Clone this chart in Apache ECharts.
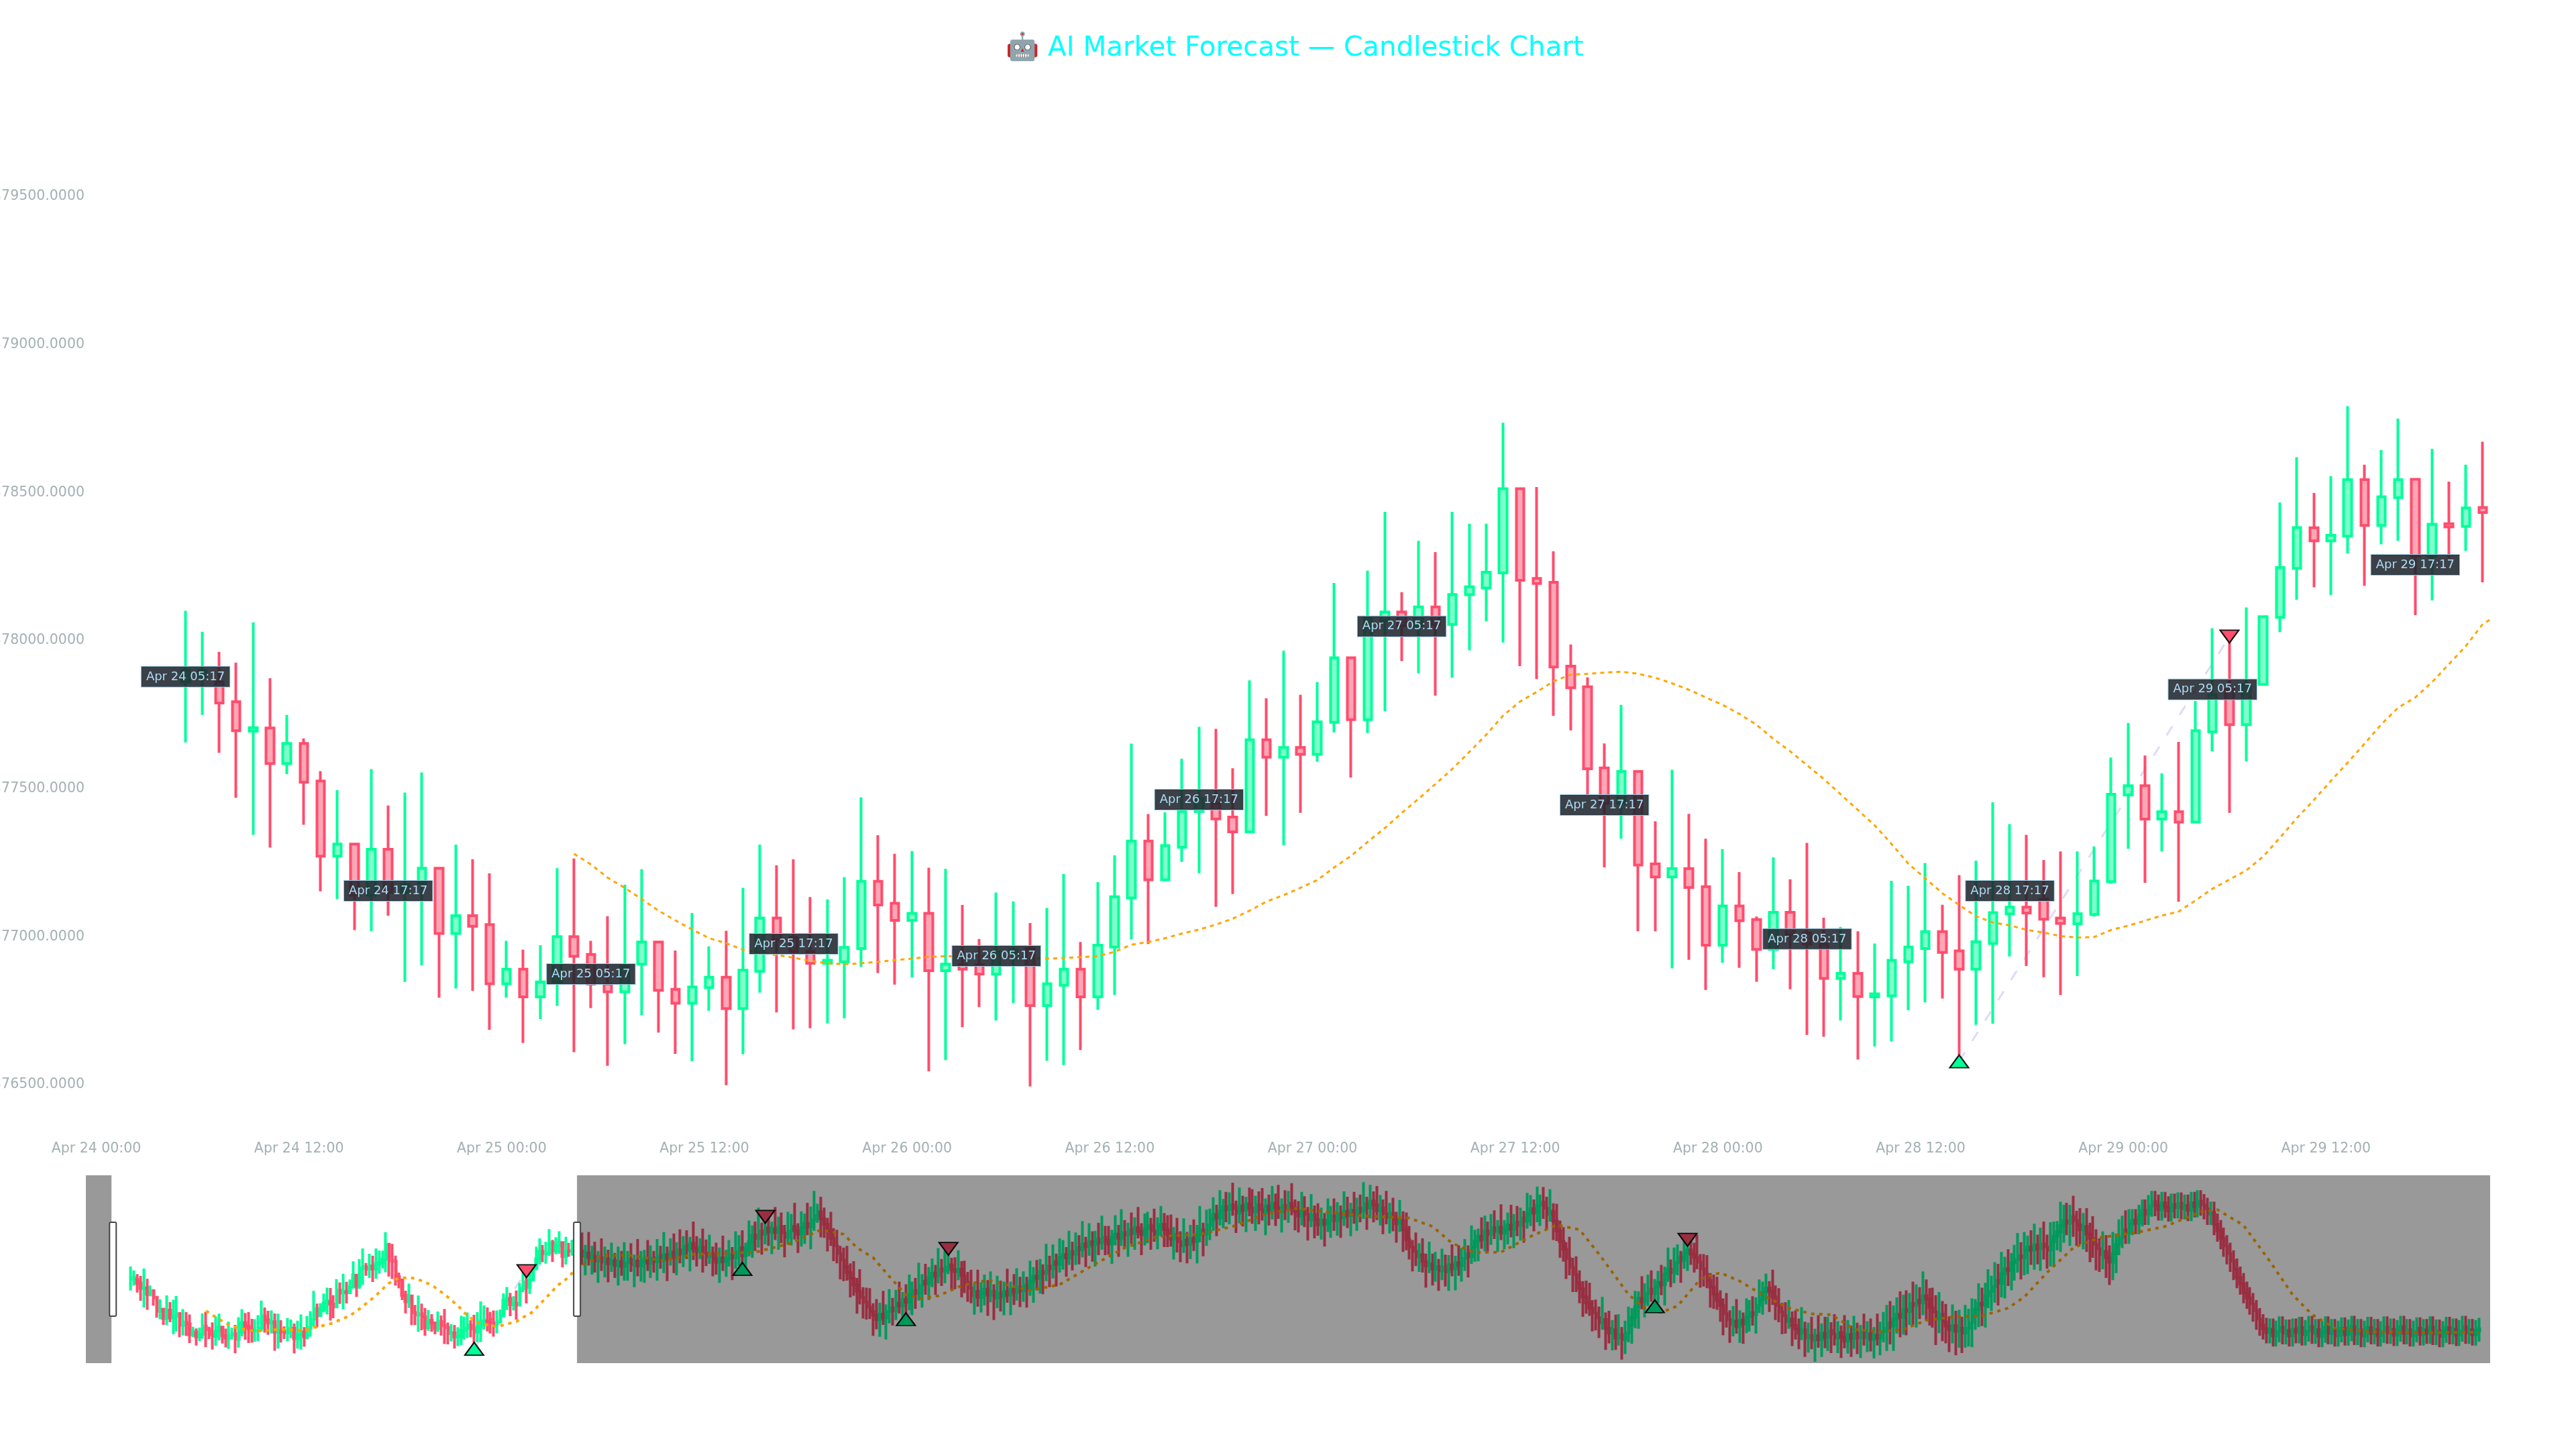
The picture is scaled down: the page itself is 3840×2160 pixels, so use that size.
<!DOCTYPE html>
<html><head><meta charset="utf-8">
<script src="https://cdn.jsdelivr.net/npm/echarts@6/dist/echarts.min.js"></script>
<style>html,body{margin:0;padding:0;background:#fff}#c{width:3840px;height:2160px}</style></head>
<body><div id="c"></div>
<script>
const firstCandle = Date.UTC(2025,3,24,5,17);
const mainMin = Date.UTC(2025,3,23,23,23);
const mainMax = Date.UTC(2025,3,29,21,43);
const sliderMin = Date.UTC(2025,3,23,15,33);
const sliderMax = Date.UTC(2025,4,24,6,41);
const titleText = '🤖 AI Market Forecast — Candlestick Chart';
const xTickHours = 12;
const yTickValues = [76500,77000,77500,78000,78500,79000,79500];
const opens = [77860,77880,77860,77794,77694,77705,77585,77653,77526,77272,77313,77140,77295,77150,77180,77231,77011,77071,77041,76841,76890,76797,76847,77000,76940,76840,76814,76907,76982,76822,76775,76828,76863,76757,76883,77063,76997,76950,76910,76915,76960,77187,77113,77055,77079,76885,76905,76905,76874,76945,76960,76767,76836,76890,76797,76965,77131,77323,77192,77302,77423,77450,77404,77354,77665,77606,77639,77616,77724,77942,77733,78067,78097,78050,78114,78055,78155,78178,78229,78513,78210,78197,77914,77844,77570,77450,77558,77246,77202,77230,77169,76971,77104,77058,76957,77082,77012,76975,76859,76876,76797,76800,76915,76960,77017,76952,76890,76977,77077,77100,77127,77063,77044,77075,77186,77479,77510,77397,77422,77387,77692,77835,77716,77852,78079,78244,78381,78337,78353,78544,78389,78483,78545,78285,78395,78386,78450];
const closes = [77900,77900,77789,77696,77706,77585,77653,77522,77272,77313,77140,77295,77150,77175,77231,77011,77071,77035,76841,76890,76797,76847,77000,76934,76840,76814,76900,76982,76819,76775,76830,76863,76757,76887,77063,76990,76950,76910,76920,76964,77187,77107,77055,77079,76885,76907,76890,76874,76950,76955,76767,76841,76890,76797,76971,77135,77323,77192,77308,77423,77467,77398,77354,77665,77606,77639,77616,77726,77942,77733,78077,78097,78050,78114,78054,78156,78182,78231,78513,78204,78193,77911,77841,77567,77450,77558,77242,77202,77230,77166,76971,77104,77054,76957,77082,77007,76975,76859,76876,76798,76807,76920,76965,77017,76947,76890,76983,77081,77100,77080,77059,77045,77078,77188,77481,77510,77397,77422,77387,77696,77817,77716,77852,78081,78247,78382,78337,78356,78544,78389,78486,78544,78285,78393,78384,78448,78433];
const lows = [77656,77749,77621,77469,77344,77301,77549,77378,77153,77127,77022,77019,77071,76847,76903,76794,76825,76817,76685,76794,76641,76722,76766,76610,76759,76564,76637,76735,76676,76604,76579,76750,76498,76603,76811,76744,76687,76691,76707,76724,76898,76877,76838,76862,76545,76583,76694,76762,76717,76776,76494,76581,76566,76617,76753,76803,76991,76975,77187,77253,77214,77101,77144,77354,77408,77309,77418,77591,77690,77538,77688,77762,77931,77890,77814,77875,77967,78065,77994,77914,77870,77746,77697,77480,77234,77331,77018,77018,76893,76922,76820,76912,76895,76848,76890,76822,76668,76662,76717,76585,76629,76646,76752,76778,76791,76601,76702,76706,76933,76901,76863,76803,76867,77068,77179,77297,77182,77288,77118,77387,77626,77418,77592,77852,78029,78138,78180,78154,78294,78185,78325,78337,78086,78136,78280,78303,78197];
const highs = [78101,78030,77962,77926,78062,77873,77749,77670,77559,77495,77313,77566,77443,77487,77555,77231,77311,77261,77214,76986,76956,76971,77231,77264,76986,77069,77176,77228,76982,76953,77080,76967,77020,77165,77311,77241,77261,77134,77126,77201,77471,77343,77280,77289,77233,77229,77107,76992,77149,77119,77046,77097,77212,76982,77184,77275,77652,77414,77420,77601,77709,77702,77569,77866,77805,77966,77817,77860,78195,77942,78236,78435,78164,78337,78299,78435,78395,78395,78736,78513,78519,78302,77987,77876,77653,77783,77558,77390,77564,77415,77331,77296,77218,77068,77268,77194,77317,77064,77033,77018,76977,77189,77172,77249,77108,77208,77257,77454,77380,77344,77259,77288,77288,77305,77605,77722,77612,77552,77658,77796,78042,78033,78112,78081,78467,78620,78499,78556,78792,78594,78644,78750,78545,78648,78537,78594,78672];
// hours after the window: close, wick above the body, wick below the body
const restClose = [
78390,78300,78350,78260,78290,78200,78260,78180,78240,78150,
78210,78120,78190,78100,78170,78230,78130,78200,78110,78180,
78240,78160,78260,78190,78290,78210,78320,78250,78370,78280,
78410,78340,78480,78400,78530,78440,78380,78460,78350,78280,
78340,78240,78180,78260,78190,78240,78320,78260,78380,78450,
78300,78420,78560,78680,78620,78760,78700,78820,78740,78800,
78730,78830,78720,78640,78760,78840,78770,78700,78820,78900,
78830,78960,79040,79110,78980,78880,78760,78620,78480,78340,
78220,78100,77990,77880,77760,77640,77530,77440,77350,77270,
77200,77120,77220,77150,77270,77340,77280,77420,77370,77490,
77440,77580,77660,77600,77750,77830,77780,77900,77980,77930,
78060,78010,78090,78130,78040,78000,78050,77930,77810,77700,
77560,77640,77530,77600,77680,77570,77640,77520,77610,77540,
77640,77570,77680,77620,77720,77650,77760,77690,77830,77920,
77880,78010,77970,78110,78060,78190,78140,78270,78320,78260,
78380,78330,78450,78410,78520,78470,78560,78510,78610,78540,
78640,78580,78520,78640,78700,78620,78730,78680,78780,78710,
78820,78750,78690,78800,78860,78760,78700,78830,78880,78780,
78690,78610,78700,78560,78480,78590,78510,78620,78560,78700,
78780,78700,78870,78960,79060,79000,79130,79210,79150,79240,
79170,79090,79220,79140,79260,79180,79110,79240,79150,79090,
79220,79140,79270,79190,79110,79230,79160,79270,79190,79120,
79030,79130,79060,78960,79060,78970,78870,78960,78880,78950,
79040,78950,79080,79000,79120,79040,79140,79060,79180,79120,
79260,79180,79310,79240,79130,79190,79080,79010,79090,78970,
78890,78950,78780,78600,78460,78380,78280,78320,78190,78110,
78150,78050,78100,78020,78090,78000,78130,78060,78170,78120,
78250,78340,78280,78460,78570,78660,78600,78760,78700,78820,
78750,78830,78720,78780,78870,78790,78920,78860,79000,78940,
79080,79170,79090,79230,79290,79180,79060,79120,78940,78760,
78560,78420,78250,78080,77950,77800,77690,77540,77430,77330,
77240,77150,77060,77120,76960,76870,76930,76780,76840,76750,
76870,77020,77160,77350,77510,77440,77600,77680,77600,77720,
77810,77760,77960,78050,77990,78170,78260,78210,78340,78410,
78330,78270,78180,78060,77960,77840,77720,77590,77470,77380,
77230,77120,77030,77090,76990,77110,77040,77170,77250,77210,
77380,77490,77630,77700,77640,77540,77380,77260,77190,77090,
77130,77010,76950,76870,76930,76780,76830,76740,76820,76750,
76870,76790,76920,76850,76780,76880,76790,76720,76840,76770,
76870,76780,76880,76790,76860,76750,76830,76780,76900,76960,
77060,77000,77130,77220,77160,77310,77270,77420,77380,77480,
77430,77560,77500,77340,77260,77130,77220,77080,77000,76930,
77010,76900,76960,76870,76960,77060,77190,77310,77420,77390,
77560,77640,77730,77850,77790,77970,78060,78030,78170,78230,
78300,78260,78400,78460,78400,78500,78430,78520,78460,78400,
78560,78660,78740,78860,78950,78900,79020,78950,78870,78780,
78840,78700,78620,78510,78430,78320,78380,78260,78180,78340,
78510,78640,78780,78720,78880,78960,78900,79040,79140,79070,
79220,79300,79230,79150,79280,79200,79130,79250,79190,79270,
79170,79230,79140,79280,79210,79310,79240,79170,79070,79100,
78880,78760,78620,78480,78340,78200,78050,77900,77780,77620,
77520,77410,77280,77130,77020,76950,76880,76940,76820,76900,
76980,76860,76920,76820,76940,76880,76970,76840,76910,76990,
76870,76930,76810,76890,76980,76860,76930,76820,76900,76960,
76840,76920,76990,76850,76930,76810,76900,76970,76860,76930,
76820,76890,76980,76870,76940,76830,76910,76990,76860,76930,
76820,76900,76960,76840,76930,76870,76980,76850,76920,76810,
76890,76970,76860,76940,76830,76910,76990,76870,76930,76840,
76910,76950];
const restUp = [
220,340,150,390,190,270,130,360,230,170,330,140,280,200,380,160,300,120,410,210,
170,350,230,130,320,190,420,150,250,340,140,380,180,290,120,400,220,160,340,250,
350,130,300,190,410,170,270,140,370,230,320,120,390,180,250,430,150,300,210,130,
400,190,270,150,350,230,440,130,300,180,380,250,460,150,280,210,120,350,190,300,
140,230,380,170,320,130,410,190,270,350,150,300,210,430,130,340,180,250,400,140,
280,370,160,230,420,130,320,190,270,150,380,180,300,410,130,230,350,150,280,190,
340,140,400,210,270,170,370,130,320,230,180,420,140,280,350,190,250,150,380,170,
300,230,130,410,190,320,150,350,270,140,380,180,280,230,420,130,340,190,150,300,
400,210,270,140,350,170,430,230,130,320,190,380,150,280,250,140,410,180,340,210,
270,370,130,300,190,400,150,250,350,170,440,130,280,210,320,180,380,140,270,230,
410,150,340,190,130,300,350,170,250,400,140,210,320,180,420,130,280,230,370,150,
190,350,270,140,380,170,300,230,130,410,180,320,210,150,370,270,140,340,190,250,
400,130,300,180,350,230,150,420,190,280,140,380,170,320,250,130,350,210,300,150,
410,190,270,140,340,230,180,380,130,320,190,270,150,400,210,140,350,280,170,250,
320,130,420,180,230,370,150,300,190,130,380,250,170,350,140,280,210,410,150,320,
190,270,130,400,180,340,230,140,300,370,150,250,210,420,130,320,180,280,380,140,
230,340,170,300,130,410,190,270,350,150,210,320,140,400,180,280,250,130,370,170,
300,210,420,150,270,350,140,230,320,190,130,380,170,280,410,180,140,340,230,300,
150,370,190,270,130,400,210,320,170,250,350,140,280,190,420,150,230,340,130,380,
180,300,250,150,370,210,130,410,270,170,320,190,140,350,230,280,150,400,180,300,
330,400,250,310,420,270,350,190,400,290,240,450,300,200,370,310,410,240,330,180,
390,270,340,210,430,260,320,190,370,290,240,410,200,330,300,400,220,360,180,270,
420,250,340,210,310,390,190,300,410,230,360,270,200,440,290,330,220,390,180,310,
250,340,210,410,280,190,370,300,230,400,200,330,260,
360,280];
const restDown = [
250,170,360,140,310,210,400,160,280,340,150,230,370,170,260,330,130,410,190,290,
380,140,270,200,350,150,230,420,130,300,340,180,250,160,390,220,280,140,360,170,
130,320,230,380,170,280,140,410,200,270,150,350,130,300,230,170,380,190,260,410,
140,320,190,370,130,270,170,350,230,300,150,410,200,130,340,250,380,140,280,180,
360,270,150,350,200,410,130,300,230,140,380,180,320,130,400,220,270,170,140,350,
230,150,380,280,130,410,200,300,180,350,140,270,220,130,370,320,150,400,200,250,
140,350,170,280,220,380,130,410,190,270,340,140,370,230,150,300,200,350,130,400,
220,280,380,140,340,180,410,150,230,350,130,300,200,270,140,380,170,320,410,230,
130,270,200,370,150,340,140,230,400,190,300,130,380,200,270,350,140,280,170,320,
230,140,380,200,300,130,350,270,170,400,150,410,220,280,200,340,140,320,230,270,
130,370,190,300,400,150,220,350,270,140,410,280,170,340,130,380,200,250,140,350,
300,170,230,380,130,350,200,270,410,140,320,190,280,370,150,230,380,170,300,200,
140,400,190,320,170,270,380,130,300,220,350,150,410,200,230,370,170,280,200,400,
130,300,230,370,170,270,350,140,400,190,300,230,380,130,270,370,170,220,320,200,
140,380,130,300,270,150,350,200,280,400,140,230,340,170,380,200,280,130,350,190,
300,230,380,140,320,170,270,370,200,140,340,230,280,130,400,190,320,220,140,370,
270,170,350,200,400,130,280,230,150,340,300,190,380,140,270,200,230,410,150,320,
200,280,130,350,230,140,380,270,170,300,400,150,340,220,130,300,370,170,270,200,
350,140,280,230,380,150,270,190,340,230,140,380,200,300,130,350,270,170,400,150,
320,200,250,350,140,280,380,130,230,340,190,300,370,150,270,220,350,140,320,200,
420,340,460,270,370,320,440,250,360,410,300,230,400,330,290,480,260,360,320,410,
250,440,300,370,270,340,450,260,330,390,420,230,360,300,410,260,460,290,370,330,
240,400,320,440,270,360,290,410,230,340,300,460,260,370,320,220,420,300,390,270,
360,330,440,250,400,320,270,370,420,
330,360];
const maMain = [77280,77244,77199,77165,77127,77088,77055,77024,76995,76978,76956,76945,76938,76929,76918,76910,76907,76910,76915,76921,76926,76932,76934,76934,76934,76934,76931,76927,76926,76928,76931,76934,76949,76973,76982,76995,77011,77024,77041,77061,77088,77119,77140,77165,77191,77234,77273,77321,77367,77418,77466,77516,77567,77624,77682,77747,77794,77827,77863,77885,77888,77892,77895,77888,77875,77856,77834,77808,77783,77752,77716,77668,77626,77579,77532,77480,77428,77376,77313,77246,77197,77147,77107,77069,77048,77038,77023,77014,77002,76997,76999,77023,77037,77054,77071,77085,77123,77162,77193,77224,77271,77335,77401,77462,77526,77588,77652,77718,77774,77808,77860,77921,77982,78056];
const maMainStart = 23;
const restMaHour = [139,144,153,163,172,181,191,202,211,218,222,227,232,237,242,247,254,262,269,275,284,294,304,314,327,337,347,356,366,377,391,398,404,411,419,428,436,443,449,458,463,468,473,480,486,492,500,507,514,520,527,535,542,549,557,566,574,579,586,594,602,614,622,633,638,646,654,661,667,674,684,703,718];
const restMaValue = [78160,78304,78304,78209,78325,78346,78366,78532,78780,78697,78449,78263,77911,77580,77506,77560,77746,77849,77746,77655,77767,78118,78449,78656,78697,78842,79069,79173,79111,79036,78995,78842,78532,78358,78366,78656,78871,78780,78325,77580,77332,77250,77374,77870,77986,77829,77539,77332,77225,77208,76939,76898,76939,77105,77167,77188,77332,77539,77994,78449,78635,78739,78842,79111,79152,78863,78201,77580,77208,76960,76898,76877,76886];
const labelHour = [0,12,24,36,48,60,72,84,96,108,120,132];
const labelPrice = [77878,77155,76874,76976,76935,77463,78048,77445,76992,77155,77835,78256];
const upHour = [105,187,237,466];
const upPrice = [76579,78056,77126,77365];
const downHour = [121,194,250,476];
const downPrice = [78014,79020,78428,78594];

const green='#00ff99', red='#ff4d6d', HOUR=3600000;
const t = h => firstCandle + h*HOUR;
const MONTHS=['Jan','Feb','Mar','Apr','May','Jun','Jul','Aug','Sep','Oct','Nov','Dec'];
const p2 = n => String(n).padStart(2,'0');
const fmt = v => { const d=new Date(v); return MONTHS[d.getUTCMonth()]+' '+p2(d.getUTCDate())+' '+p2(d.getUTCHours())+':'+p2(d.getUTCMinutes()); };

const candles = opens.map((o,i)=>[t(i),o,closes[i],lows[i],highs[i]]);
let prev = closes[closes.length-1];
restClose.forEach((c,k)=>{
  const o=prev, up=restUp[k]||200, dn=restDown[k]||200;
  candles.push([t(opens.length+k),o,c,Math.min(o,c)-dn,Math.max(o,c)+up]);
  prev=c;
});
const maData = maMain.map((v,i)=>[t(maMainStart+i),v]).concat(restMaHour.map((h,i)=>[t(h),restMaValue[i]]));
const pairData = [];
upHour.forEach((h,i)=>{ pairData.push([t(h),upPrice[i]],[t(downHour[i]),downPrice[i]],[t(downHour[i]),'-']); });
const upData = upHour.map((h,i)=>[t(h),upPrice[i]]);
const downData = downHour.map((h,i)=>[t(h),downPrice[i]]);
const labelData = labelHour.map((h,i)=>[t(h),labelPrice[i]]);

const candleStyle = {color:'rgba(0,255,153,0.5)',color0:'rgba(255,77,109,0.5)',borderColor:green,borderColor0:red,borderWidth:4,borderColorDoji:green};
const markerBase = {type:'scatter',symbolSize:[28,19],silent:true,z:6};
function marks(x,y){
  return [
    {type:'line',name:'pair',xAxisIndex:x,yAxisIndex:y,data:pairData,showSymbol:false,symbol:'none',silent:true,z:1,connectNulls:false,lineStyle:{color:'#e0daf8',width:3,type:[16,20]}},
    Object.assign({},markerBase,{name:'up',xAxisIndex:x,yAxisIndex:y,data:upData,symbol:'triangle',itemStyle:{color:green,opacity:1,borderColor:'#111',borderWidth:2}}),
    Object.assign({},markerBase,{name:'down',xAxisIndex:x,yAxisIndex:y,data:downData,symbol:'triangle',symbolRotate:180,itemStyle:{color:red,opacity:1,borderColor:'#111',borderWidth:2}})
  ];
}
const axisFont = {color:'#a3b1b2',fontSize:20.5,fontFamily:'DejaVu Sans'};
const option = {
  animation:false,useUTC:true,backgroundColor:'#fff',
  title:{text:titleText,left:1925,textAlign:'center',top:48,textStyle:{color:'#00ffff',fontSize:40.4,fontWeight:'normal',fontFamily:'DejaVu Sans'}},
  grid:[{left:128,top:128,width:3584,height:1560,outerBoundsMode:'none'},{left:128,top:1752,width:3584,height:280,outerBoundsMode:'none'}],
  xAxis:[
    {type:'time',gridIndex:0,minInterval:xTickHours*HOUR,maxInterval:xTickHours*HOUR,axisLine:{show:false},axisTick:{show:false},splitLine:{show:false},
     axisLabel:Object.assign({},axisFont,{margin:14,showMinLabel:false,showMaxLabel:false,hideOverlap:false,formatter:v=>(v%(xTickHours*HOUR)===0?fmt(v):'')})},
    {type:'time',gridIndex:1,min:sliderMin,max:sliderMax,show:false,splitLine:{show:false}}
  ],
  yAxis:[
    {type:'value',gridIndex:0,min:76339,max:79874,axisLine:{show:false},axisTick:{show:false},splitLine:{show:false},
     axisLabel:Object.assign({},axisFont,{margin:2,padding:[12,0,0,0],customValues:yTickValues,formatter:v=>'$'+v.toFixed(4)})},
    {type:'value',gridIndex:1,min:76314,max:79787,show:false,splitLine:{show:false}}
  ],
  dataZoom:[{type:'slider',xAxisIndex:0,filterMode:'none',left:128,right:128,top:1752,height:280,z:30,
    startValue:mainMin,endValue:mainMax,showDetail:false,showDataShadow:false,brushSelect:false,moveHandleSize:0,realtime:true,
    backgroundColor:'rgba(0,0,0,0)',borderColor:'rgba(0,0,0,0)',fillerColor:'rgba(0,0,0,0)',
    handleIcon:'path://M2,0 L8,0 Q10,0 10,2 L10,138 Q10,140 8,140 L2,140 Q0,140 0,138 L0,2 Q0,0 2,0 Z',handleSize:'50%',
    handleStyle:{color:'#fff',borderColor:'#444',borderWidth:2}}],
  series:[
    {type:'line',name:'extent',xAxisIndex:0,yAxisIndex:0,data:[[sliderMin,null],[sliderMax,null]],symbol:'none',silent:true,lineStyle:{opacity:0}},
    ...marks(0,0),
    {type:'candlestick',name:'candles',xAxisIndex:0,yAxisIndex:0,data:candles,barWidth:12,large:false,progressive:0,itemStyle:candleStyle,z:2,silent:true},
    {type:'line',name:'ma',xAxisIndex:0,yAxisIndex:0,data:maData,symbol:'none',silent:true,z:4,lineStyle:{color:'#ffa500',width:3,type:[6,6]}},
    {type:'scatter',name:'labels',xAxisIndex:0,yAxisIndex:0,data:labelData,symbolSize:0,silent:true,z:8,itemStyle:{opacity:1},
     label:{show:true,position:'inside',opacity:1,formatter:p=>fmt(p.value[0]),color:'#aedcf5',fontSize:18,fontFamily:'DejaVu Sans',backgroundColor:'rgba(33,37,46,0.88)',borderColor:'#9cc7df',borderWidth:1,padding:[6,7,6,7]}},
    ...marks(1,1),
    {type:'candlestick',name:'miniCandles',xAxisIndex:1,yAxisIndex:1,data:candles,barWidth:2,large:false,progressive:0,itemStyle:candleStyle,z:2,silent:true},
    {type:'line',name:'miniMa',xAxisIndex:1,yAxisIndex:1,data:maData,symbol:'none',silent:true,z:4,lineStyle:{color:'#ffa500',width:4,type:[5,7]},
     markArea:{silent:true,z:20,itemStyle:{color:'rgba(0,0,0,0.4)'},data:[[{xAxis:sliderMin},{xAxis:mainMin}],[{xAxis:mainMax},{xAxis:sliderMax}]]}}
  ]
};
echarts.init(document.getElementById('c'),null,{renderer:'canvas',width:3840,height:2160,devicePixelRatio:1}).setOption(option);
</script></body></html>
